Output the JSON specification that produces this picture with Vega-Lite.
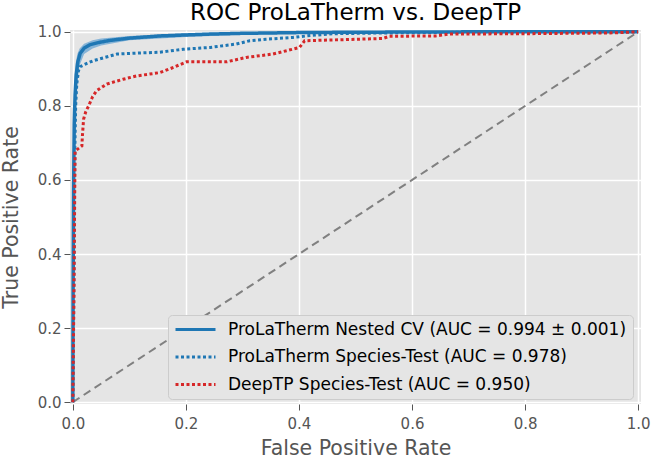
{
  "$schema": "https://vega.github.io/schema/vega-lite/v6.json",
  "width": 571,
  "height": 374,
  "autosize": {"type": "none"},
  "padding": {"left": 70, "top": 30, "right": 12, "bottom": 54},
  "background": "white",
  "title": {"text": "ROC ProLaTherm vs. DeepTP", "font": "DejaVu Sans", "fontSize": 23, "fontWeight": "normal", "color": "#000000", "anchor": "middle", "offset": 0},
  "config": {
    "font": "DejaVu Sans",
    "view": {"fill": "#E5E5E5", "stroke": null},
    "axis": {
      "labelFont": "DejaVu Sans", "labelFontSize": 15, "labelColor": "#555555",
      "tickColor": "#555555", "tickSize": 6, "tickWidth": 1,
      "domain": false, "grid": true, "gridColor": "#FFFFFF", "gridWidth": 1.5, "gridOpacity": 1,
      "titleFont": "DejaVu Sans", "titleFontSize": 20.5, "titleFontWeight": "normal", "titleColor": "#555555",
      "labelPadding": 3
    },
    "legend": {
      "labelFont": "DejaVu Sans", "labelFontSize": 17, "labelColor": "#000000", "labelLimit": 600
    }
  },
  "datasets": {
    "curves": [
      {"series": "ProLaTherm Nested CV (AUC = 0.994 ± 0.001)", "fpr": 0.0, "tpr": 0.0},
      {"series": "ProLaTherm Nested CV (AUC = 0.994 ± 0.001)", "fpr": 0.0005, "tpr": 0.3},
      {"series": "ProLaTherm Nested CV (AUC = 0.994 ± 0.001)", "fpr": 0.0015, "tpr": 0.6},
      {"series": "ProLaTherm Nested CV (AUC = 0.994 ± 0.001)", "fpr": 0.0025, "tpr": 0.75},
      {"series": "ProLaTherm Nested CV (AUC = 0.994 ± 0.001)", "fpr": 0.004, "tpr": 0.83},
      {"series": "ProLaTherm Nested CV (AUC = 0.994 ± 0.001)", "fpr": 0.006, "tpr": 0.885},
      {"series": "ProLaTherm Nested CV (AUC = 0.994 ± 0.001)", "fpr": 0.009, "tpr": 0.92},
      {"series": "ProLaTherm Nested CV (AUC = 0.994 ± 0.001)", "fpr": 0.013, "tpr": 0.942},
      {"series": "ProLaTherm Nested CV (AUC = 0.994 ± 0.001)", "fpr": 0.02, "tpr": 0.956},
      {"series": "ProLaTherm Nested CV (AUC = 0.994 ± 0.001)", "fpr": 0.03, "tpr": 0.965},
      {"series": "ProLaTherm Nested CV (AUC = 0.994 ± 0.001)", "fpr": 0.045, "tpr": 0.971},
      {"series": "ProLaTherm Nested CV (AUC = 0.994 ± 0.001)", "fpr": 0.066, "tpr": 0.977},
      {"series": "ProLaTherm Nested CV (AUC = 0.994 ± 0.001)", "fpr": 0.1, "tpr": 0.983},
      {"series": "ProLaTherm Nested CV (AUC = 0.994 ± 0.001)", "fpr": 0.154, "tpr": 0.989},
      {"series": "ProLaTherm Nested CV (AUC = 0.994 ± 0.001)", "fpr": 0.243, "tpr": 0.994},
      {"series": "ProLaTherm Nested CV (AUC = 0.994 ± 0.001)", "fpr": 0.3, "tpr": 0.996},
      {"series": "ProLaTherm Nested CV (AUC = 0.994 ± 0.001)", "fpr": 0.4, "tpr": 0.998},
      {"series": "ProLaTherm Nested CV (AUC = 0.994 ± 0.001)", "fpr": 0.5, "tpr": 0.999},
      {"series": "ProLaTherm Nested CV (AUC = 0.994 ± 0.001)", "fpr": 0.7, "tpr": 1.0},
      {"series": "ProLaTherm Nested CV (AUC = 0.994 ± 0.001)", "fpr": 1.0, "tpr": 1.0},

      {"series": "ProLaTherm Species-Test (AUC = 0.978)", "fpr": 0.0, "tpr": 0.0},
      {"series": "ProLaTherm Species-Test (AUC = 0.978)", "fpr": 0.002, "tpr": 0.35},
      {"series": "ProLaTherm Species-Test (AUC = 0.978)", "fpr": 0.003, "tpr": 0.6},
      {"series": "ProLaTherm Species-Test (AUC = 0.978)", "fpr": 0.004, "tpr": 0.72},
      {"series": "ProLaTherm Species-Test (AUC = 0.978)", "fpr": 0.005, "tpr": 0.8},
      {"series": "ProLaTherm Species-Test (AUC = 0.978)", "fpr": 0.007, "tpr": 0.86},
      {"series": "ProLaTherm Species-Test (AUC = 0.978)", "fpr": 0.01, "tpr": 0.895},
      {"series": "ProLaTherm Species-Test (AUC = 0.978)", "fpr": 0.013, "tpr": 0.906},
      {"series": "ProLaTherm Species-Test (AUC = 0.978)", "fpr": 0.025, "tpr": 0.915},
      {"series": "ProLaTherm Species-Test (AUC = 0.978)", "fpr": 0.036, "tpr": 0.922},
      {"series": "ProLaTherm Species-Test (AUC = 0.978)", "fpr": 0.05, "tpr": 0.928},
      {"series": "ProLaTherm Species-Test (AUC = 0.978)", "fpr": 0.078, "tpr": 0.94},
      {"series": "ProLaTherm Species-Test (AUC = 0.978)", "fpr": 0.12, "tpr": 0.943},
      {"series": "ProLaTherm Species-Test (AUC = 0.978)", "fpr": 0.154, "tpr": 0.945},
      {"series": "ProLaTherm Species-Test (AUC = 0.978)", "fpr": 0.195, "tpr": 0.953},
      {"series": "ProLaTherm Species-Test (AUC = 0.978)", "fpr": 0.243, "tpr": 0.958},
      {"series": "ProLaTherm Species-Test (AUC = 0.978)", "fpr": 0.289, "tpr": 0.967},
      {"series": "ProLaTherm Species-Test (AUC = 0.978)", "fpr": 0.313, "tpr": 0.976},
      {"series": "ProLaTherm Species-Test (AUC = 0.978)", "fpr": 0.342, "tpr": 0.98},
      {"series": "ProLaTherm Species-Test (AUC = 0.978)", "fpr": 0.389, "tpr": 0.985},
      {"series": "ProLaTherm Species-Test (AUC = 0.978)", "fpr": 0.42, "tpr": 0.99},
      {"series": "ProLaTherm Species-Test (AUC = 0.978)", "fpr": 0.46, "tpr": 0.995},
      {"series": "ProLaTherm Species-Test (AUC = 0.978)", "fpr": 0.55, "tpr": 0.997},
      {"series": "ProLaTherm Species-Test (AUC = 0.978)", "fpr": 0.7, "tpr": 0.999},
      {"series": "ProLaTherm Species-Test (AUC = 0.978)", "fpr": 1.0, "tpr": 1.0},

      {"series": "DeepTP Species-Test (AUC = 0.950)", "fpr": 0.0, "tpr": 0.0},
      {"series": "DeepTP Species-Test (AUC = 0.950)", "fpr": 0.002, "tpr": 0.3},
      {"series": "DeepTP Species-Test (AUC = 0.950)", "fpr": 0.003, "tpr": 0.5},
      {"series": "DeepTP Species-Test (AUC = 0.950)", "fpr": 0.004, "tpr": 0.678},
      {"series": "DeepTP Species-Test (AUC = 0.950)", "fpr": 0.016, "tpr": 0.692},
      {"series": "DeepTP Species-Test (AUC = 0.950)", "fpr": 0.017, "tpr": 0.72},
      {"series": "DeepTP Species-Test (AUC = 0.950)", "fpr": 0.019, "tpr": 0.764},
      {"series": "DeepTP Species-Test (AUC = 0.950)", "fpr": 0.023, "tpr": 0.785},
      {"series": "DeepTP Species-Test (AUC = 0.950)", "fpr": 0.028, "tpr": 0.8},
      {"series": "DeepTP Species-Test (AUC = 0.950)", "fpr": 0.035, "tpr": 0.825},
      {"series": "DeepTP Species-Test (AUC = 0.950)", "fpr": 0.042, "tpr": 0.841},
      {"series": "DeepTP Species-Test (AUC = 0.950)", "fpr": 0.06, "tpr": 0.859},
      {"series": "DeepTP Species-Test (AUC = 0.950)", "fpr": 0.089, "tpr": 0.872},
      {"series": "DeepTP Species-Test (AUC = 0.950)", "fpr": 0.113, "tpr": 0.881},
      {"series": "DeepTP Species-Test (AUC = 0.950)", "fpr": 0.154, "tpr": 0.89},
      {"series": "DeepTP Species-Test (AUC = 0.950)", "fpr": 0.178, "tpr": 0.904},
      {"series": "DeepTP Species-Test (AUC = 0.950)", "fpr": 0.201, "tpr": 0.919},
      {"series": "DeepTP Species-Test (AUC = 0.950)", "fpr": 0.272, "tpr": 0.919},
      {"series": "DeepTP Species-Test (AUC = 0.950)", "fpr": 0.307, "tpr": 0.931},
      {"series": "DeepTP Species-Test (AUC = 0.950)", "fpr": 0.354, "tpr": 0.94},
      {"series": "DeepTP Species-Test (AUC = 0.950)", "fpr": 0.378, "tpr": 0.949},
      {"series": "DeepTP Species-Test (AUC = 0.950)", "fpr": 0.401, "tpr": 0.958},
      {"series": "DeepTP Species-Test (AUC = 0.950)", "fpr": 0.41, "tpr": 0.976},
      {"series": "DeepTP Species-Test (AUC = 0.950)", "fpr": 0.548, "tpr": 0.982},
      {"series": "DeepTP Species-Test (AUC = 0.950)", "fpr": 0.56, "tpr": 0.988},
      {"series": "DeepTP Species-Test (AUC = 0.950)", "fpr": 0.642, "tpr": 0.989},
      {"series": "DeepTP Species-Test (AUC = 0.950)", "fpr": 0.666, "tpr": 0.994},
      {"series": "DeepTP Species-Test (AUC = 0.950)", "fpr": 0.8, "tpr": 0.995},
      {"series": "DeepTP Species-Test (AUC = 0.950)", "fpr": 0.95, "tpr": 0.997},
      {"series": "DeepTP Species-Test (AUC = 0.950)", "fpr": 1.0, "tpr": 1.0}
    ],
    "band": [
      {"fpr": 0.0, "lo": 0.0, "hi": 0.6},
      {"fpr": 0.001, "lo": 0.3, "hi": 0.75},
      {"fpr": 0.002, "lo": 0.55, "hi": 0.82},
      {"fpr": 0.003, "lo": 0.68, "hi": 0.87},
      {"fpr": 0.005, "lo": 0.8, "hi": 0.915},
      {"fpr": 0.008, "lo": 0.87, "hi": 0.94},
      {"fpr": 0.012, "lo": 0.91, "hi": 0.955},
      {"fpr": 0.02, "lo": 0.94, "hi": 0.968},
      {"fpr": 0.035, "lo": 0.955, "hi": 0.977},
      {"fpr": 0.05, "lo": 0.963, "hi": 0.982},
      {"fpr": 0.1, "lo": 0.977, "hi": 0.989},
      {"fpr": 0.2, "lo": 0.986, "hi": 0.996},
      {"fpr": 0.3, "lo": 0.992, "hi": 0.999},
      {"fpr": 0.5, "lo": 0.997, "hi": 1.0},
      {"fpr": 0.7, "lo": 0.999, "hi": 1.0},
      {"fpr": 1.0, "lo": 1.0, "hi": 1.0}
    ],
    "diag": [
      {"fpr": 0.0, "tpr": 0.0},
      {"fpr": 1.0, "tpr": 1.0}
    ]
  },
  "layer": [
    {
      "data": {"name": "diag"},
      "mark": {"type": "line", "color": "#808080", "strokeWidth": 2, "strokeDash": [8, 5]},
      "encoding": {
        "x": {"field": "fpr", "type": "quantitative", "scale": {"domain": [-0.005, 1.005], "nice": false, "zero": false},
              "axis": {"values": [0, 0.2, 0.4, 0.6, 0.8, 1.0], "format": ".1f", "title": "False Positive Rate", "labelPadding": 6, "titlePadding": 7}},
        "y": {"field": "tpr", "type": "quantitative", "scale": {"domain": [-0.005, 1.005], "nice": false, "zero": false},
              "axis": {"values": [0, 0.2, 0.4, 0.6, 0.8, 1.0], "format": ".1f", "title": "True Positive Rate", "titlePadding": 16}}
      }
    },
    {
      "data": {"name": "band"},
      "mark": {"type": "area", "color": "#3a8ccc", "opacity": 0.55, "orient": "vertical"},
      "encoding": {
        "x": {"field": "fpr", "type": "quantitative"},
        "y": {"field": "lo", "type": "quantitative"},
        "y2": {"field": "hi"}
      }
    },
    {
      "data": {"name": "curves"},
      "transform": [{"filter": "datum.series === 'ProLaTherm Nested CV (AUC = 0.994 ± 0.001)'"}],
      "mark": {"type": "line", "strokeWidth": 3.5, "strokeCap": "butt"},
      "encoding": {
        "x": {"field": "fpr", "type": "quantitative"},
        "y": {"field": "tpr", "type": "quantitative"},
        "color": {"field": "series", "type": "nominal",
          "scale": {"domain": ["ProLaTherm Nested CV (AUC = 0.994 ± 0.001)", "ProLaTherm Species-Test (AUC = 0.978)", "DeepTP Species-Test (AUC = 0.950)"], "range": ["#1f77b4", "#1f77b4", "#d62728"]},
          "legend": {"title": null, "orient": "none", "legendX": 98, "legendY": 285, "symbolType": "stroke", "symbolSize": 1600, "symbolStrokeWidth": 3, "clipHeight": 17, "fillColor": "#E5E5E5", "strokeColor": "#CCCCCC", "padding": 6, "cornerRadius": 4, "rowPadding": 9.5, "labelOffset": 11}},
        "strokeDash": {"field": "series", "type": "nominal",
          "scale": {"domain": ["ProLaTherm Nested CV (AUC = 0.994 ± 0.001)", "ProLaTherm Species-Test (AUC = 0.978)", "DeepTP Species-Test (AUC = 0.950)"], "range": [[1, 0], [3, 2.5], [3, 2.5]]},
          "legend": {"title": null, "orient": "none", "legendX": 98, "legendY": 285, "symbolType": "stroke", "symbolSize": 1600, "symbolStrokeWidth": 3, "clipHeight": 17, "fillColor": "#E5E5E5", "strokeColor": "#CCCCCC", "padding": 6, "cornerRadius": 4, "rowPadding": 9.5, "labelOffset": 11}}
      }
    },
    {
      "data": {"name": "curves"},
      "transform": [{"filter": "datum.series === 'ProLaTherm Species-Test (AUC = 0.978)'"}],
      "mark": {"type": "line", "strokeWidth": 3, "strokeCap": "butt"},
      "encoding": {
        "x": {"field": "fpr", "type": "quantitative"},
        "y": {"field": "tpr", "type": "quantitative"},
        "color": {"field": "series", "type": "nominal"},
        "strokeDash": {"field": "series", "type": "nominal"}
      }
    },
    {
      "data": {"name": "curves"},
      "transform": [{"filter": "datum.series === 'DeepTP Species-Test (AUC = 0.950)'"}],
      "mark": {"type": "line", "strokeWidth": 3, "strokeCap": "butt"},
      "encoding": {
        "x": {"field": "fpr", "type": "quantitative"},
        "y": {"field": "tpr", "type": "quantitative"},
        "color": {"field": "series", "type": "nominal"},
        "strokeDash": {"field": "series", "type": "nominal"}
      }
    }
  ]
}
